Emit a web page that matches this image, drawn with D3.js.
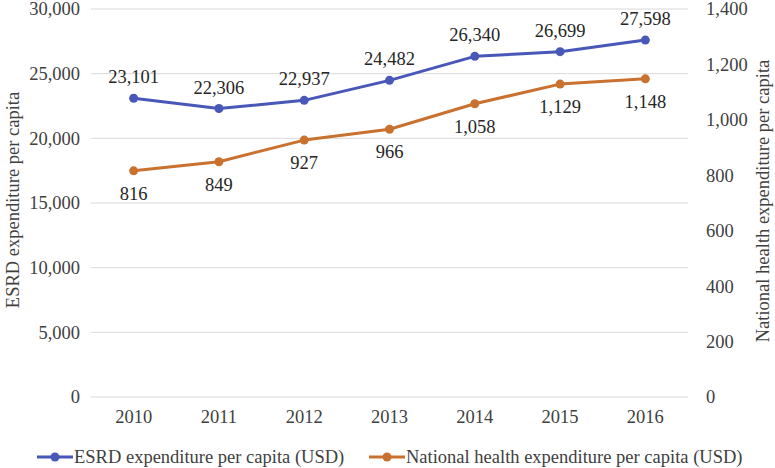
<!DOCTYPE html>
<html>
<head>
<meta charset="utf-8">
<script src="https://cdn.jsdelivr.net/npm/d3@7"></script>
<style>
body { margin: 0; background: #fff; }
svg text { font-family: "Liberation Serif", "DejaVu Serif", serif; fill: #404040; font-size: 18.5px; }
</style>
</head>
<body>
<script>
var years = ["2010", "2011", "2012", "2013", "2014", "2015", "2016"];
var esrd = [23101, 22306, 22937, 24482, 26340, 26699, 27598];
var nhe = [816, 849, 927, 966, 1058, 1129, 1148];
var leftTicks = [0, 5000, 10000, 15000, 20000, 25000, 30000];
var rightTicks = [0, 200, 400, 600, 800, 1000, 1200, 1400];

var w = 775, h = 468;
var pLeft = 91, pRight = 688, pTop = 9, pBottom = 397;
var blue = "#4857b8", orange = "#c9712f";

var svg = d3.select("body").append("svg")
    .attr("width", w)
    .attr("height", h);

var x = d3.scaleBand().domain(years).range([pLeft, pRight]);
var yL = d3.scaleLinear().domain([0, 30000]).range([pBottom, pTop]);
var yR = d3.scaleLinear().domain([0, 1400]).range([pBottom, pTop]);
var fmt = d3.format(",");

// gridlines
svg.append("g").selectAll("line")
    .data(leftTicks)
    .enter().append("line")
    .attr("x1", pLeft).attr("x2", pRight)
    .attr("y1", function(d) { return yL(d); })
    .attr("y2", function(d) { return yL(d); })
    .attr("stroke", "#d9d9d9")
    .attr("stroke-width", 1);

// left axis
var gl = svg.append("g")
    .attr("transform", "translate(" + (pLeft - 8) + ",0)")
    .call(d3.axisLeft(yL).tickValues(leftTicks).tickFormat(fmt).tickSize(0));
gl.select(".domain").remove();

// right axis
var gr = svg.append("g")
    .attr("transform", "translate(" + (pRight + 18) + ",0)")
    .call(d3.axisRight(yR).tickValues(rightTicks).tickFormat(fmt).tickSize(0));
gr.select(".domain").remove();
gr.selectAll("text").attr("x", 0);

// x axis
var gx = svg.append("g")
    .attr("transform", "translate(0," + (pBottom + 10) + ")")
    .call(d3.axisBottom(x).tickSize(0));
gx.select(".domain").remove();

// axis titles
svg.append("text")
    .attr("transform", "translate(19," + ((pTop + pBottom) / 2 - 3) + ") rotate(-90)")
    .attr("text-anchor", "middle")
    .text("ESRD expenditure per capita");

svg.append("text")
    .attr("transform", "translate(769," + ((pTop + pBottom) / 2 - 2) + ") rotate(-90)")
    .attr("text-anchor", "middle")
    .text("National health expenditure per capita");

var cx = function(d, i) { return x(years[i]) + x.bandwidth() / 2; };

var draw_series = function(vals, yScale, color, dy) {
    var line = d3.line()
        .x(function(d, i) { return cx(d, i); })
        .y(function(d) { return yScale(d); });

    svg.append("path")
        .datum(vals)
        .attr("d", line)
        .attr("fill", "none")
        .attr("stroke", color)
        .attr("stroke-width", 3)
        .attr("stroke-linejoin", "round");

    svg.append("g").selectAll("circle")
        .data(vals)
        .enter().append("circle")
        .attr("cx", cx)
        .attr("cy", function(d) { return yScale(d); })
        .attr("r", 4.5)
        .attr("fill", color);

    svg.append("g").selectAll("text")
        .data(vals)
        .enter().append("text")
        .attr("x", cx)
        .attr("y", function(d) { return yScale(d) + dy; })
        .attr("text-anchor", "middle")
        .style("fill", "#262626")
        .text(fmt);
};

draw_series(esrd, yL, blue, -15);
draw_series(nhe, yR, orange, 29);

// legend
var legend = [
    {name: "ESRD expenditure per capita (USD)", color: blue, x: 37},
    {name: "National health expenditure per capita (USD)", color: orange, x: 369}
];
var lg = svg.append("g").selectAll("g")
    .data(legend)
    .enter().append("g")
    .attr("transform", function(d) { return "translate(" + d.x + ",457)"; });
lg.append("line")
    .attr("x1", 0).attr("x2", 36)
    .attr("stroke", function(d) { return d.color; })
    .attr("stroke-width", 3);
lg.append("circle")
    .attr("cx", 18).attr("r", 4.5)
    .attr("fill", function(d) { return d.color; });
lg.append("text")
    .attr("x", 37).attr("y", 6)
    .text(function(d) { return d.name; });
</script>
</body>
</html>
